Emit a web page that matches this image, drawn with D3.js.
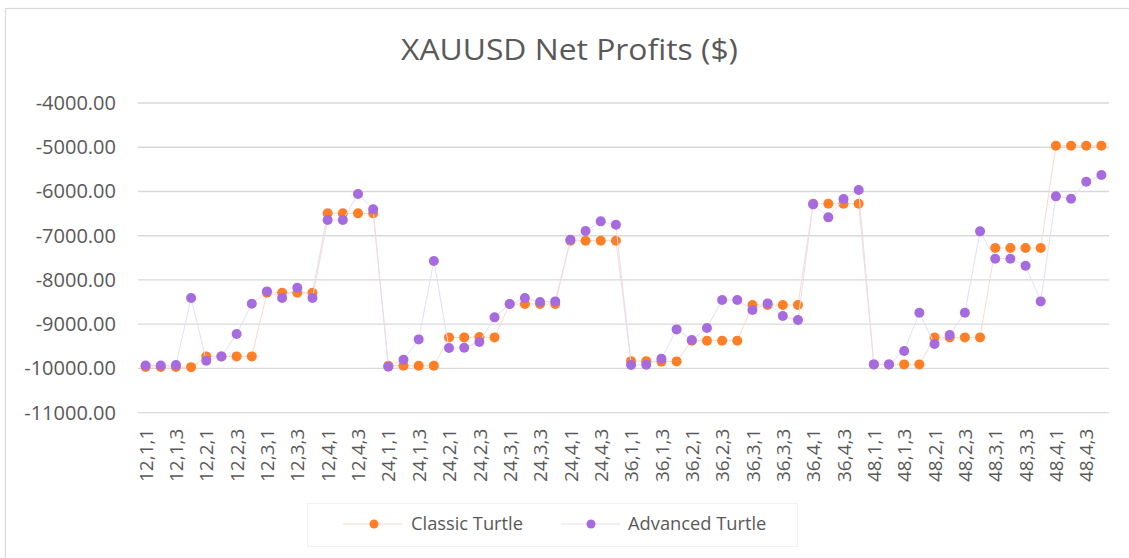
<!DOCTYPE html>
<html>
<head>
<meta charset="utf-8">
<script src="https://cdn.jsdelivr.net/npm/d3@7"></script>
<style>
  html, body { margin: 0; padding: 0; background: #fff; }
  svg { display: block; font-family: "Open Sans", "Noto Sans", sans-serif; }
</style>
</head>
<body>
<svg id="chart" width="1129" height="558"></svg>
<script>
const categories = [
  "12,1,1","12,1,2","12,1,3","12,1,4","12,2,1","12,2,2","12,2,3","12,2,4",
  "12,3,1","12,3,2","12,3,3","12,3,4","12,4,1","12,4,2","12,4,3","12,4,4",
  "24,1,1","24,1,2","24,1,3","24,1,4","24,2,1","24,2,2","24,2,3","24,2,4",
  "24,3,1","24,3,2","24,3,3","24,3,4","24,4,1","24,4,2","24,4,3","24,4,4",
  "36,1,1","36,1,2","36,1,3","36,1,4","36,2,1","36,2,2","36,2,3","36,2,4",
  "36,3,1","36,3,2","36,3,3","36,3,4","36,4,1","36,4,2","36,4,3","36,4,4",
  "48,1,1","48,1,2","48,1,3","48,1,4","48,2,1","48,2,2","48,2,3","48,2,4",
  "48,3,1","48,3,2","48,3,3","48,3,4","48,4,1","48,4,2","48,4,3","48,4,4"
];

const classicTurtle = [
  -9965,-9965,-9965,-9970, -9727,-9727,-9727,-9727, -8288,-8288,-8288,-8288, -6494,-6494,-6494,-6494,
  -9938,-9938,-9938,-9938, -9298,-9298,-9290,-9298, -8544,-8544,-8544,-8544, -7112,-7112,-7112,-7112,
  -9835,-9835,-9845,-9840, -9373,-9373,-9373,-9373, -8567,-8567,-8567,-8567, -6276,-6276,-6276,-6276,
  -9908,-9908,-9908,-9908, -9298,-9298,-9298,-9298, -7278,-7278,-7278,-7278, -4965,-4965,-4965,-4965
];

const advancedTurtle = [
  -9935,-9935,-9923,-8408, -9825,-9727,-9222,-8537, -8258,-8408,-8175,-8408, -6645,-6645,-6057,-6404,
  -9960,-9803,-9343,-7572, -9539,-9531,-9403,-8845, -8544,-8408,-8499,-8484, -7090,-6894,-6675,-6751,
  -9923,-9916,-9780,-9117, -9358,-9087,-8454,-8454, -8680,-8529,-8815,-8906, -6291,-6585,-6170,-5967,
  -9908,-9908,-9607,-8740, -9449,-9245,-8740,-6901, -7519,-7519,-7677,-8484, -6110,-6163,-5778,-5628
];

const yTicks = [-4000,-5000,-6000,-7000,-8000,-9000,-10000,-11000];

const seriesNames = ["Classic Turtle", "Advanced Turtle"];
const seriesColors = ["#FF7F27", "#A66BDF"];
const lineColors = ["#FBD9CC", "#E6DDF6"];

const svg = d3.select("#chart");
const textColor = "#595959";

// chart frame
svg.append("rect")
  .attr("x", 5.5).attr("y", 8.5)
  .attr("width", 1200).attr("height", 600)
  .attr("fill", "none").attr("stroke", "#d9d9d9").attr("stroke-width", 1.2);

const plot = { left: 138, right: 1109, top: 103, bottom: 412.7 };

const x = d3.scalePoint().domain(categories).range([plot.left, plot.right]).padding(0.5);
const y = d3.scaleLinear().domain([-11000, -4000]).range([plot.bottom, plot.top]);

// title
svg.append("text")
  .attr("x", 401).attr("y", 60)
  .attr("fill", textColor)
  .attr("textLength", 337)
  .attr("lengthAdjust", "spacingAndGlyphs")
  .style("font-size", "29px")
  .text("XAUUSD Net Profits ($)");

// gridlines
svg.append("g")
  .selectAll("line")
  .data(yTicks)
  .join("line")
  .attr("x1", plot.left).attr("x2", plot.right)
  .attr("y1", d => y(d)).attr("y2", d => y(d))
  .attr("stroke", "#d9d9d9").attr("stroke-width", 1.3);

// y axis labels
const yAxis = d3.axisLeft(y).tickValues(yTicks).tickFormat(d => d.toFixed(2)).tickSize(0).tickPadding(0);
const yg = svg.append("g").attr("transform", `translate(116,0)`).call(yAxis);
yg.select(".domain").remove();
yg.selectAll("text").attr("fill", textColor).style("font-size", "20px").style("font-family", "'Open Sans', sans-serif");

// x axis labels (every other)
const xAxis = d3.axisBottom(x).tickValues(categories.filter((d, i) => i % 2 === 0)).tickSize(0).tickPadding(0);
const xg = svg.append("g").attr("transform", `translate(0,${plot.bottom})`).call(xAxis);
xg.select(".domain").remove();
xg.selectAll("text")
  .attr("fill", textColor)
  .style("font-size", "19px")
  .style("font-family", "'Open Sans', sans-serif")
  .attr("transform", "rotate(-90)")
  .attr("text-anchor", "end")
  .attr("x", -16)
  .attr("y", 0)
  .attr("dy", "0.35em");

// series
const allSeries = [classicTurtle, advancedTurtle];
allSeries.forEach((vals, si) => {
  const g = svg.append("g");
  const line = d3.line().x((d, i) => x(categories[i])).y(d => y(d));
  g.append("path")
    .datum(vals)
    .attr("d", line)
    .attr("fill", "none")
    .attr("stroke", lineColors[si])
    .attr("stroke-width", 1);
  g.selectAll("circle")
    .data(vals)
    .join("circle")
    .attr("cx", (d, i) => x(categories[i]))
    .attr("cy", d => y(d))
    .attr("r", 5)
    .attr("fill", seriesColors[si]);
});

// legend
const legend = svg.append("g");
legend.append("rect")
  .attr("x", 307.5).attr("y", 503.5).attr("width", 490).attr("height", 43)
  .attr("fill", "none").attr("stroke", "#f0f0f0").attr("stroke-width", 1);
const legendItems = [
  { lx1: 343, lx2: 403, mx: 374, tx: 411 },
  { lx1: 561, lx2: 620, mx: 591, tx: 628 }
];
legendItems.forEach((it, i) => {
  legend.append("line").attr("x1", it.lx1).attr("x2", it.lx2).attr("y1", 524).attr("y2", 524)
    .attr("stroke", lineColors[i]).attr("stroke-width", 1);
  legend.append("circle").attr("cx", it.mx).attr("cy", 524).attr("r", 4.5).attr("fill", seriesColors[i]);
  legend.append("text").attr("x", it.tx).attr("y", 524).attr("dy", "0.35em")
    .attr("fill", textColor).style("font-size", "18.3px").text(seriesNames[i]);
});
</script>
</body>
</html>
